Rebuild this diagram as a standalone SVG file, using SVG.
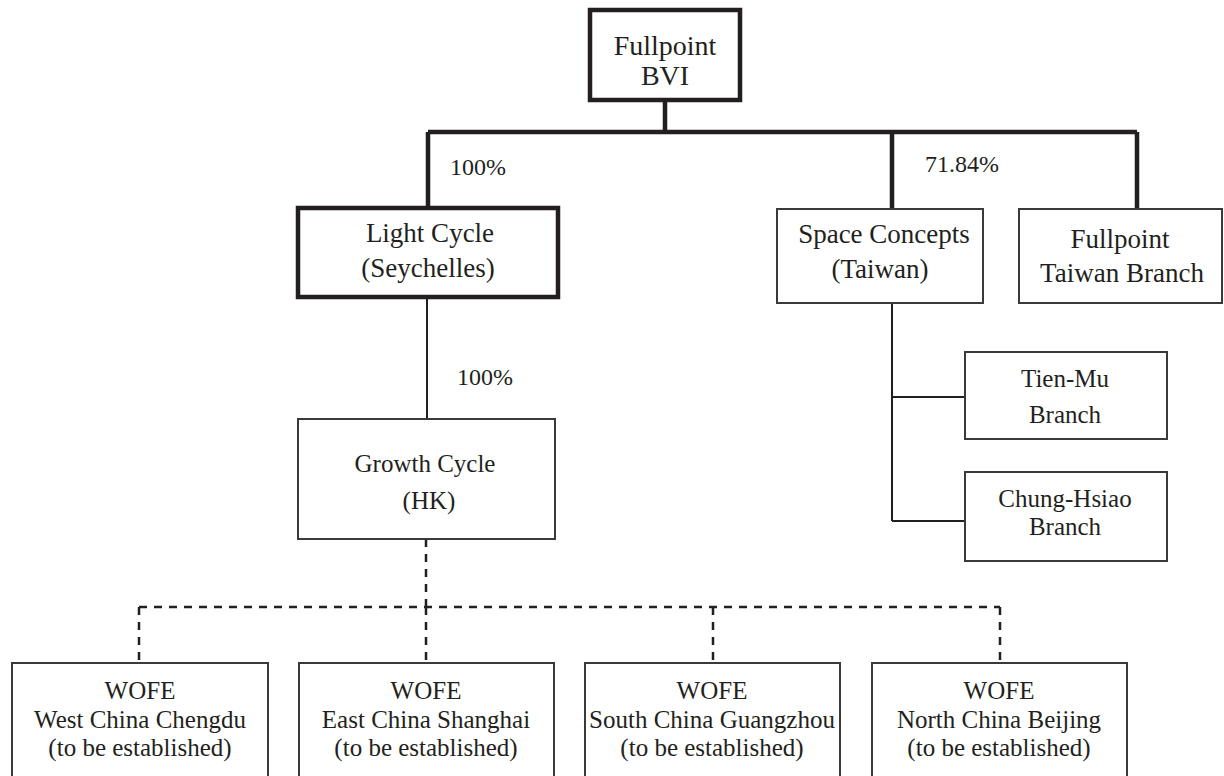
<svg xmlns="http://www.w3.org/2000/svg" width="1224" height="776" viewBox="0 0 1224 776">
<style>
text{font-family:"Liberation Serif","Times New Roman",serif;fill:#231f20;text-anchor:middle}
.t27{font-size:27px}
.t25{font-size:25px}
.pct{font-size:24px;text-anchor:start}
.thick{fill:#fff;stroke:#231f20;stroke-width:4.5}
.thin{fill:#fff;stroke:#3a3a3a;stroke-width:2}
.cT{fill:none;stroke:#231f20;stroke-width:4.5}
.cN{fill:none;stroke:#231f20;stroke-width:2}
.cD{fill:none;stroke:#231f20;stroke-width:2.5;stroke-dasharray:8 7}
</style>
<rect width="1224" height="776" fill="#fff"/>
<g id="connectors">
<path class="cT" d="M665 100V132M428 132H1137M428 132V208M892 132V209M1137 132V209"/>
<path class="cN" d="M427 297V419M892 303V521M892 397H965M892 521H965"/>
<path class="cD" d="M426 539V607M139 607H1000M139 607V663M426 607V663M713 607V663M1000 607V663"/>
</g>
<g id="labels">
<text class="pct" x="450" y="175">100%</text>
<text class="pct" x="925" y="172">71.84%</text>
<text class="pct" x="457" y="385">100%</text>
</g>
<g id="fullpoint-bvi">
<rect class="thick" x="590" y="10" width="150" height="90"/>
<text class="t27" x="665" y="55" style="font-size:28px">Fullpoint</text>
<text class="t27" x="665" y="85" style="font-size:28px">BVI</text>
</g>
<g id="light-cycle">
<rect class="thick" x="298" y="208" width="260" height="89"/>
<text class="t27" x="430" y="242">Light Cycle</text>
<text class="t27" x="428" y="277">(Seychelles)</text>
</g>
<g id="space-concepts">
<rect class="thin" x="777" y="209" width="206" height="94"/>
<text class="t27" x="884" y="243">Space Concepts</text>
<text class="t27" x="880" y="278">(Taiwan)</text>
</g>
<g id="fullpoint-taiwan">
<rect class="thin" x="1019" y="209" width="203" height="94"/>
<text class="t27" x="1120" y="248">Fullpoint</text>
<text class="t27" x="1122" y="282">Taiwan Branch</text>
</g>
<g id="growth-cycle">
<rect class="thin" x="298" y="419" width="257" height="120"/>
<text class="t25" x="425" y="472">Growth Cycle</text>
<text class="t25" x="429" y="509">(HK)</text>
</g>
<g id="tien-mu">
<rect class="thin" x="965" y="352" width="202" height="87"/>
<text class="t25" x="1065" y="387">Tien-Mu</text>
<text class="t25" x="1065" y="423">Branch</text>
</g>
<g id="chung-hsiao">
<rect class="thin" x="965" y="472" width="202" height="89"/>
<text class="t25" x="1065" y="507">Chung-Hsiao</text>
<text class="t25" x="1065" y="535">Branch</text>
</g>
<g id="wofe-chengdu">
<rect class="thin" x="12" y="663" width="256" height="130"/>
<text class="t25" x="140" y="699">WOFE</text>
<text class="t25" x="140" y="728">West China Chengdu</text>
<text class="t25" x="140" y="756">(to be established)</text>
</g>
<g id="wofe-shanghai">
<rect class="thin" x="299" y="663" width="255" height="130"/>
<text class="t25" x="426" y="699">WOFE</text>
<text class="t25" x="426" y="728">East China Shanghai</text>
<text class="t25" x="426" y="756">(to be established)</text>
</g>
<g id="wofe-guangzhou">
<rect class="thin" x="585" y="663" width="255" height="130"/>
<text class="t25" x="712" y="699">WOFE</text>
<text class="t25" x="712" y="728">South China Guangzhou</text>
<text class="t25" x="712" y="756">(to be established)</text>
</g>
<g id="wofe-beijing">
<rect class="thin" x="872" y="663" width="255" height="130"/>
<text class="t25" x="999" y="699">WOFE</text>
<text class="t25" x="999" y="728">North China Beijing</text>
<text class="t25" x="999" y="756">(to be established)</text>
</g>
</svg>
